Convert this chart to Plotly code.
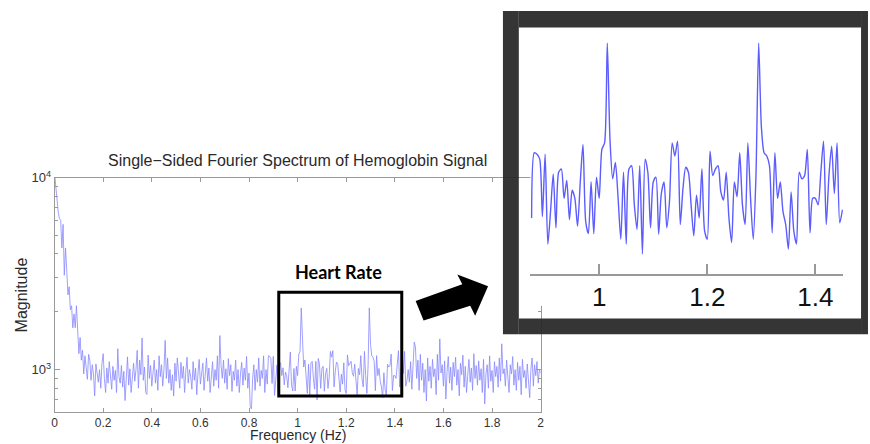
import plotly.graph_objects as go

W, H = 870, 444


def px(x):
    return x / W


def py(y):
    return 1 - y / H


# ---------------- data (magnitude, 0.005 Hz bins) -------------
mag_000_095 = [10500, 8800, 7600, 6600, 6100, 6000, 4300, 5700, 3100, 4300,
               3300, 2450, 2700, 2050, 2150, 1650, 1950, 1650, 2150, 1420]
mag_100_195 = [1210, 1470, 1120, 1260, 950, 1180, 1030, 890, 1200, 1120,
               880, 1060, 950, 730, 1070, 940, 860, 1000, 800, 1080]
mag_200_295 = [1210, 900, 760, 1020, 850, 1100, 960, 790, 1040, 880,
               990, 760, 1285, 920, 850, 1050, 810, 980, 690, 900]
mag_300_395 = [1165, 830, 1010, 760, 940, 1080, 870, 1000, 1260, 800,
               1120, 940, 1460, 880, 1030, 760, 743, 1190, 900, 1050]
mag_400_495 = [820, 960, 1120, 850, 1000, 780, 1180, 920, 1060, 820,
               1000, 1420, 900, 1150, 850, 1000, 780, 940, 728, 1080]
mag_500_595 = [870, 1150, 950, 800, 1090, 900, 1040, 760, 980, 1160,
               850, 1000, 920, 790, 1100, 880, 1020, 740, 960, 1130]
mag_600_695 = [840, 990, 1080, 780, 930, 1150, 870, 1020, 760, 960,
               1100, 820, 1000, 880, 1180, 800, 1503, 1050, 900, 1120]
mag_700_795 = [850, 1010, 790, 1140, 930, 1060, 770, 980, 880, 1120,
               820, 1000, 760, 950, 1090, 830, 1020, 880, 1170, 800]
mag_800_870 = [960, 640, 625, 900, 1060, 780, 1000, 860, 1150, 820,
               990, 900, 1180, 760, 1000]
mag_875_1450 = [840, 1182, 1172, 1143, 847, 1172, 733, 869, 1058, 798,
                1067, 1085, 931, 1022, 833, 971, 931, 805, 1014, 1234,
                826, 774, 1014, 774, 1040, 931, 1203, 1244, 2095, 1265,
                1031, 1123, 931, 752, 1067, 733, 1085, 1104, 900, 791,
                1104, 696, 1143, 1067, 798, 1014, 1040, 772, 955, 1014,
                798, 915, 1244, 1162, 1255, 812, 980, 1095, 1067, 900,
                765, 947, 840, 1085, 785, 752, 1192, 1049, 1085, 1104,
                963, 923, 1067, 840, 739, 1014, 939, 1182, 900, 812,
                1244, 931, 752, 1049, 2095, 1355, 1182, 1162, 1104, 778,
                1182, 931, 1014, 869, 812, 714, 963, 785, 733, 1067,
                1031, 1049, 1203, 778, 931, 931, 900, 1067, 1255, 812,
                1049, 1223, 955, 1244, 819, 877]
mag_1455_1545 = [1000, 860, 1100, 790, 1050, 1390, 1310, 900, 1120, 780,
                 1200, 880, 1080, 760, 1000, 687, 1150, 870, 1040]
mag_1550_1645 = [800, 1130, 920, 1010, 740, 1200, 880, 1445, 960, 1060,
                 820, 1110, 703, 980, 1170, 850, 1030, 780, 1090, 920]
mag_1650_1745 = [1160, 830, 1000, 730, 1080, 940, 1190, 810, 1040, 760,
                 990, 1130, 860, 1020, 780, 1210, 900, 1050, 830, 1110]
mag_1750_1845 = [880, 1010, 760, 1130, 663, 950, 1060, 800, 1180, 870,
                 990, 760, 1100, 920, 1040, 810, 1150, 870, 1362, 950]
mag_1850_1945 = [1010, 820, 1120, 900, 760, 1060, 950, 1170, 830, 1000,
                 780, 1090, 880, 1040, 740, 1130, 910, 990, 800, 1070]
mag_1950_2000 = [870, 714, 1010, 1150, 820, 1060, 930, 1100, 850, 1000, 960]

segments = [mag_000_095, mag_100_195, mag_200_295, mag_300_395, mag_400_495,
            mag_500_595, mag_600_695, mag_700_795, mag_800_870, mag_875_1450,
            mag_1455_1545, mag_1550_1645, mag_1650_1745, mag_1750_1845,
            mag_1850_1945, mag_1950_2000]
expected = [20, 20, 20, 20, 20, 20, 20, 20, 15, 116, 19, 20, 20, 20, 20, 11]
for s, n in zip(segments, expected):
    assert len(s) == n, (len(s), n)

magnitude = [v for s in segments for v in s]
BIN_HZ = 0.005
frequency = [round(i * BIN_HZ, 3) for i in range(len(magnitude))]

inset_lo, inset_hi = 0.875, 1.450
inset_freq = [f for f in frequency if inset_lo - 1e-9 <= f <= inset_hi + 1e-9]
inset_mag = [m for f, m in zip(frequency, magnitude) if inset_lo - 1e-9 <= f <= inset_hi + 1e-9]

main_xticks = [0, 0.2, 0.4, 0.6, 0.8, 1, 1.2, 1.4, 1.6, 1.8, 2]
main_xtext = ["0", "0.2", "0.4", "0.6", "0.8", "1", "1.2", "1.4", "1.6", "1.8", "2"]
main_yticks = [1000, 10000]
main_ytext = ["10<sup>3</sup>", "10<sup>4</sup>"]
minor_yticks = [700, 800, 900, 2000, 3000, 4000, 5000, 6000, 7000, 8000, 9000]
inset_xticks = [1, 1.2, 1.4]
inset_xtext = ["1", "1.2", "1.4"]

TITLE = "Single\u2212Sided Fourier Spectrum of Hemoglobin Signal"
XLABEL = "Frequency (Hz)"
YLABEL = "Magnitude"
NOTE = "Heart Rate"

FONT = "Liberation Sans, Arial, Helvetica, sans-serif"
AXC = "#9a9a9a"

fig = go.Figure()
fig.add_trace(go.Scatter(x=frequency, y=magnitude, mode="lines",
                         xaxis="x", yaxis="y",
                         line=dict(color="#8888ff", width=0.8),
                         hoverinfo="skip"))
fig.add_trace(go.Scatter(x=inset_freq, y=inset_mag, mode="lines",
                         xaxis="x2", yaxis="y2",
                         line=dict(color="#5c5cff", width=1.4, shape="spline", smoothing=0.7),
                         hoverinfo="skip"))

shapes = []
shapes.append(dict(type="rect", xref="x2 domain", yref="y2 domain", x0=0, x1=1, y0=0, y1=1,
                   fillcolor="white", line=dict(width=0), layer="below"))
shapes.append(dict(type="rect", xref="paper", yref="paper",
                   x0=px(278), x1=px(402), y0=py(395), y1=py(289),
                   line=dict(color="black", width=3), layer="above"))
arrow_pts = [(416, 298), (463, 281), (458, 271), (489, 283), (476, 313), (471, 303), (424, 318)]
path = "M " + " L ".join(f"{px(a):.5f},{py(b):.5f}" for a, b in arrow_pts) + " Z"
shapes.append(dict(type="path", xref="paper", yref="paper", path=path,
                   fillcolor="black", line=dict(width=0), layer="above"))
frame_parts = [(504, 520, 2, 332), (865, 872, 2, 332), (520, 865, 2, 19), (520, 865, 316, 332)]
for x0, x1, y0, y1 in frame_parts:
    shapes.append(dict(type="rect", xref="paper", yref="paper",
                       x0=px(x0), x1=px(x1), y0=py(y1), y1=py(y0),
                       fillcolor="#262626", opacity=0.93, line=dict(width=0), layer="above"))

annotations = [
    dict(text=TITLE, x=px(296.5), y=py(155), xref="paper", yref="paper",
         showarrow=False, xanchor="center", yanchor="middle",
         font=dict(family=FONT, size=16, color="#2a2a2a")),
    dict(text=XLABEL, x=px(297), y=py(444), xref="paper", yref="paper",
         showarrow=False, xanchor="center", yanchor="bottom", borderpad=0,
         font=dict(family=FONT, size=14, color="#2a2a2a")),
    dict(text=YLABEL, x=px(19), y=py(291.5), xref="paper", yref="paper",
         showarrow=False, xanchor="center", yanchor="middle", textangle=-90,
         font=dict(family=FONT, size=16, color="#2a2a2a")),
    dict(text="<b>" + NOTE + "</b>", x=px(338.5), y=py(268), xref="paper", yref="paper",
         showarrow=False, xanchor="center", yanchor="middle",
         font=dict(family="Lato, Open Sans, sans-serif", size=18, color="black")),
]

fig.update_layout(
    width=W, height=H,
    margin=dict(l=0, r=0, t=0, b=0),
    paper_bgcolor="white", plot_bgcolor="white",
    showlegend=False,
    font=dict(family=FONT, color="#333"),
    xaxis=dict(domain=[px(52), px(542)], range=[0, 2], anchor="y",
               showline=True, linecolor=AXC, linewidth=1, mirror="allticks",
               ticks="inside", ticklen=4, tickcolor=AXC,
               tickvals=main_xticks, ticktext=main_xtext,
               tickfont=dict(family=FONT, size=12, color="#333"),
               showgrid=False, zeroline=False),
    yaxis=dict(domain=[py(411), py(172)], type="log", range=[2.781, 4], anchor="x",
               showline=True, linecolor=AXC, linewidth=1, mirror="allticks",
               ticks="inside", ticklen=5, tickcolor=AXC,
               tickvals=main_yticks, ticktext=main_ytext,
               tickfont=dict(family=FONT, size=13, color="#333"),
               minor=dict(tickvals=minor_yticks, ticks="inside", ticklen=3, tickcolor=AXC, showgrid=False),
               showgrid=False, zeroline=False),
    xaxis2=dict(domain=[px(531.7), px(846.7)], range=[0.8728, 1.4508],
                anchor="free", position=py(271),
                showline=True, linecolor="#999", linewidth=1.5,
                ticks="inside", ticklen=10, tickwidth=1.5, tickcolor="#999",
                tickvals=inset_xticks, ticktext=inset_xtext,
                tickfont=dict(family=FONT, size=26, color="#111"),
                showgrid=False, zeroline=False),
    yaxis2=dict(domain=[py(303), py(19)], type="log", range=[2.7248, 3.3567],
                anchor="x2", visible=False, showgrid=False, zeroline=False),
    shapes=shapes,
    annotations=annotations,
)

fig.write_html(
    "out.html",
    config={"displayModeBar": False, "responsive": False},
    post_script="document.body.style.margin='0';document.body.style.overflow='hidden';",
)
